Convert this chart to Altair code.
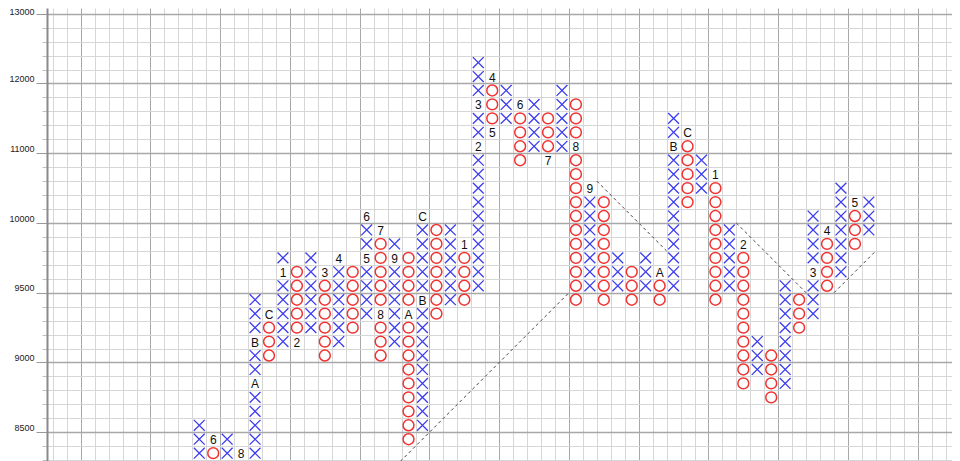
import altair as alt
import pandas as pd

# ---------------- data ----------------
# Point & Figure columns (box size 100 below 10000, 200 above)
col_no = list(range(8, 57))
col_type = ["X", "O"] * 24 + ["X"]
col_low = [8300, 8300, 8300, 8300, 8300,
           9000, 9100, 9100, 9200, 9000,
           9100, 9200, 9300, 9000, 9100,
           8400, 8500, 9300, 9400, 9400,
           9500, 11200, 11400, 10800, 11000,
           10800, 11000, 9400, 9500, 9400,
           9500, 9400, 9500, 9400, 9500,
           10200, 10400, 9400, 9500, 8800,
           8900, 8700, 8800, 9200, 9300,
           9500, 9600, 9800, 9900]
col_high = [8500, 8400, 8400, 8300, 9400,
            9300, 9700, 9600, 9700, 9600,
            9700, 9600, 10000, 9900, 9800,
            9700, 10000, 9900, 9900, 9800,
            12200, 12000, 11800, 11600, 11600,
            11400, 11800, 11600, 10400, 10200,
            9700, 9600, 9700, 9600, 11400,
            11200, 10800, 10600, 9900, 9800,
            9100, 9000, 9500, 9400, 10000,
            9900, 10400, 10200, 10200]

# month markers that replace a box
mark_col = [9, 11, 12, 12, 13, 14, 15, 17, 18, 20, 20, 21, 21, 22, 23, 24, 24,
            27, 28, 28, 29, 29, 31, 33, 35, 36, 41, 42, 43, 45, 47, 52, 53, 55]
mark_price = [8400, 8300, 8800, 9100, 9300, 9600, 9100, 9600, 9700, 9700, 10000,
              9900, 9300, 9700, 9300, 9400, 10000, 9800, 11000, 11600, 12000,
              11200, 11600, 10800, 11000, 10400, 9600, 11000, 11200, 10600,
              9800, 9600, 9900, 10200]
mark_text = ["6", "8", "A", "B", "C", "1", "2", "3", "4", "5", "6", "7", "8",
             "9", "A", "B", "C", "1", "2", "3", "4", "5", "6", "7", "8", "9",
             "A", "B", "C", "1", "2", "3", "4", "5"]

# dashed trend lines (column edge, price line)
trend_id = [1, 1, 2, 2, 3, 3, 4, 4]
trend_col = [22, 35, 37, 42, 47, 52, 54, 57]
trend_price = [8200, 9500, 10600, 9800, 10000, 9500, 9500, 9800]

# y tick labels
y_tick_prices = [8500, 9000, 9500, 10000, 11000, 12000, 13000]
y_tick_labels = ["8500", "9000", "9500", "10000", "11000", "12000", "13000"]


def row_of(price):
    return (price - 10000) / 200 if price >= 10000 else (price - 10000) / 100


def price_of(row):
    return 10000 + 200 * row if row >= 0 else 10000 + 100 * row


markers = {(c, row_of(p)): t for c, p, t in zip(mark_col, mark_price, mark_text)}

boxes = []
for c, t, lo, hi in zip(col_no, col_type, col_low, col_high):
    r0, r1 = int(round(row_of(lo))), int(round(row_of(hi)))
    for r in range(r0, r1 + 1):
        if (c, r) in markers:
            continue
        boxes.append({"cx": c + 0.5, "ry": r + 0.5, "kind": t,
                      "price": price_of(r)})
box_df = pd.DataFrame(boxes)

mark_df = pd.DataFrame({"cx": [c + 0.5 for c in mark_col],
                        "ry": [row_of(p) + 0.5 for p in mark_price],
                        "txt": mark_text})
trend_df = pd.DataFrame({"id": trend_id, "cx": trend_col,
                         "ry": [row_of(p) for p in trend_price]})

# ---------------- layout ----------------
cell = 13.95
W, H = 905, 453
x_left = (47 - 80.7) / cell
x_dom = [x_left, x_left + W / cell]
y_top = (223 - 8) / cell
y_dom = [y_top - H / cell, y_top]

tick_rows = [int(row_of(p)) for p in y_tick_prices]
label_expr = ""
for r, lab in zip(tick_rows, y_tick_labels):
    label_expr += f"datum.value === {r} ? '{lab}' : "
label_expr += "''"

major = "datum.value % 5 === 0"
top_row = max(tick_rows)

x_axis = alt.Axis(values=list(range(-2, 63)), labels=False, ticks=False,
                  domain=False, title=None, grid=True,
                  gridColor=alt.condition(major, alt.value("#a8a8a8"), alt.value("#d6d6d6")),
                  gridWidth=1)
y_axis = alt.Axis(values=list(range(-17, 16)), title=None, grid=True,
                  gridColor=alt.condition(major, alt.value("#a8a8a8"), alt.value("#d6d6d6")),
                  gridWidth=alt.condition(major, alt.value(1.5), alt.value(1)),
                  labelExpr=label_expr, labelFont="Liberation Sans",
                  labelFontSize=9, labelColor="#222", labelPadding=2,
                  labelBaseline=alt.condition(f"datum.value === {top_row}",
                                              alt.value("middle"), alt.value("alphabetic")),
                  labelOffset=-2,
                  tickColor=alt.condition(major, alt.value("#999"), alt.value("#c0c0c0")),
                  tickSize=alt.condition(major, alt.value(11), alt.value(5)),
                  domain=True, domainColor="#8a8a8a", domainWidth=2)

xs = alt.Scale(domain=x_dom, nice=False, zero=False)
ys = alt.Scale(domain=y_dom, nice=False, zero=False)

X = alt.X("cx:Q", scale=xs, axis=x_axis)
Y = alt.Y("ry:Q", scale=ys, axis=y_axis)

x_shape = "M-1,-1L1,1M-1,1L1,-1"

xs_layer = alt.Chart(box_df).transform_filter("datum.kind === 'X'").mark_point(
    shape=x_shape, filled=False, stroke="#3b3bf0", strokeWidth=1.3, size=118,
    opacity=1, clip=True
).encode(x=X, y=Y)

os_layer = alt.Chart(box_df).transform_filter("datum.kind === 'O'").mark_point(
    shape="circle", filled=False, stroke="#f23232", strokeWidth=1.5, size=118,
    opacity=1, clip=True
).encode(x=X, y=Y)

txt_layer = alt.Chart(mark_df).mark_text(
    font="Liberation Sans", fontSize=12, color="#111", align="center",
    baseline="middle", dy=1, clip=True
).encode(x=X, y=Y, text="txt:N")

trend_layer = alt.Chart(trend_df).mark_line(
    color="#444", strokeWidth=1, strokeDash=[3, 3], clip=True
).encode(x=X, y=Y, detail="id:N")

chart = alt.layer(trend_layer, xs_layer, os_layer, txt_layer).properties(
    width=W, height=H,
    padding={"left": 39, "top": 0, "right": 0, "bottom": 0},
    autosize=alt.AutoSizeParams(type="none"),
    background="white",
).configure_view(stroke=None)

chart.save("out.html", embed_options={"renderer": "svg", "actions": False})
